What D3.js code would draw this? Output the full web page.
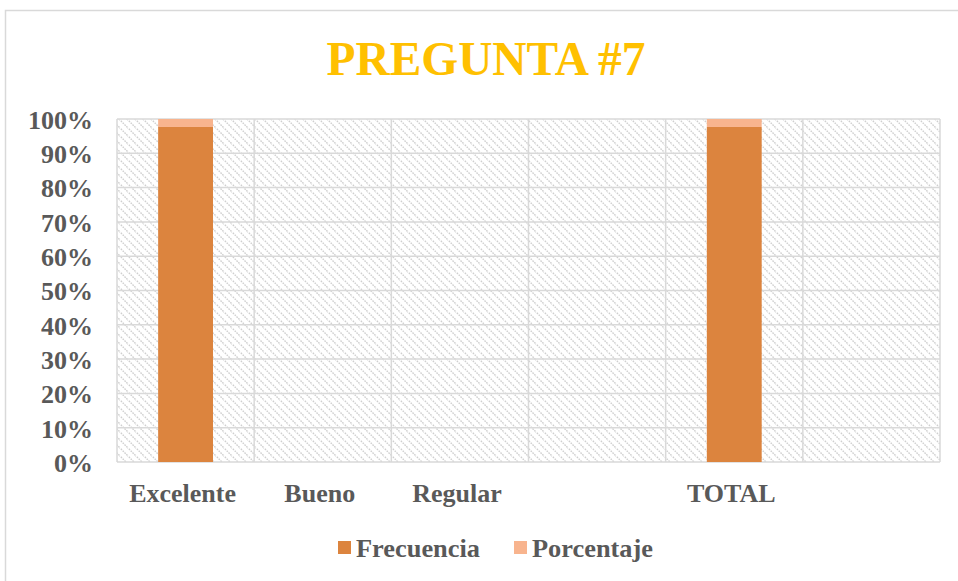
<!DOCTYPE html>
<html><head><meta charset="utf-8">
<script src="https://cdn.jsdelivr.net/npm/d3@7"></script>
<style>body{margin:0;background:#fff}svg{display:block}</style>
</head><body>
<svg id="chart" width="958" height="581"></svg>
<script>
const title = "PREGUNTA #7";
const categories = ["Excelente", "Bueno", "Regular", " ", "TOTAL", "  "];
const frecuencia = [42, 0, 0, 0, 42, 0];
const porcentaje = [1, 0, 0, 0, 1, 0];
const seriesNames = ["Frecuencia", "Porcentaje"];
const seriesColors = ["#DC843E", "#F8B48E"];
const yTicks = [0, 0.1, 0.2, 0.3, 0.4, 0.5, 0.6, 0.7, 0.8, 0.9, 1];

const svg = d3.select("#chart");
const font = "'Liberation Serif','Times New Roman',serif";
const m = {left: 117, right: 940, top: 119, bottom: 462};

// outer border
svg.append("rect").attr("x", 5.5).attr("y", 10.5).attr("width", 960).attr("height", 580)
  .attr("fill", "#fff").attr("stroke", "#d9d9d9").attr("stroke-width", 1.5);

// hatch pattern
const defs = svg.append("defs");
const pat = defs.append("pattern").attr("id", "hatch").attr("patternUnits", "userSpaceOnUse")
  .attr("width", 8).attr("height", 8);
pat.append("path").attr("d", "M-1,-1 L9,9 M-9,-1 L1,9 M7,-1 L17,9")
  .attr("stroke", "#cfcfcf").attr("stroke-width", 1.4).attr("stroke-dasharray", "1.6,1");

const x = d3.scaleBand().domain(categories).range([m.left, m.right]).paddingInner(0).paddingOuter(0);
const y = d3.scaleLinear().domain([0, 1]).range([m.bottom, m.top]);

svg.append("rect").attr("x", m.left).attr("y", m.top).attr("width", m.right - m.left)
  .attr("height", m.bottom - m.top).attr("fill", "url(#hatch)");

// gridlines
const g = svg.append("g").attr("stroke", "#d9d9d9").attr("stroke-width", 1.5);
yTicks.forEach(t => g.append("line").attr("x1", m.left).attr("x2", m.right).attr("y1", y(t)).attr("y2", y(t)));
categories.forEach(c => g.append("line").attr("x1", x(c)).attr("x2", x(c)).attr("y1", m.top).attr("y2", m.bottom));
g.append("line").attr("x1", m.right).attr("x2", m.right).attr("y1", m.top).attr("y2", m.bottom);

// stacked 100% bars
const rows = categories.map((c, i) => {
  const tot = frecuencia[i] + porcentaje[i];
  return {cat: c, Frecuencia: tot ? frecuencia[i] / tot : 0, Porcentaje: tot ? porcentaje[i] / tot : 0};
});
const stack = d3.stack().keys(seriesNames)(rows);
const bw = x.bandwidth() * 0.4;
stack.forEach((s, si) => {
  svg.append("g").selectAll("rect").data(s.filter(d => d[1] > d[0])).join("rect")
    .attr("x", d => x(d.data.cat) + (x.bandwidth() - bw) / 2)
    .attr("width", bw)
    .attr("y", d => y(d[1]))
    .attr("height", d => y(d[0]) - y(d[1]))
    .attr("fill", seriesColors[si]);
});

// y axis
const yAxis = d3.axisLeft(y).tickValues(yTicks).tickFormat(d3.format(".0%")).tickSize(0).tickPadding(24);
const ya = svg.append("g").attr("transform", `translate(${m.left},0)`).call(yAxis);
ya.select(".domain").remove();
ya.selectAll("text").attr("font-family", font).attr("font-weight", "bold").attr("font-size", 26)
  .attr("fill", "#595959").attr("dy", "0.36em");

// x axis
const xAxis = d3.axisBottom(x).tickSize(0).tickPadding(22);
const xa = svg.append("g").attr("transform", `translate(-3,${m.bottom})`).call(xAxis);
xa.select(".domain").remove();
xa.selectAll("text").attr("font-family", font).attr("font-weight", "bold").attr("font-size", 26)
  .attr("fill", "#595959");

// title
svg.append("text").attr("x", 486).attr("y", 75).attr("text-anchor", "middle")
  .attr("font-family", font).attr("font-weight", "bold").attr("font-size", 48)
  .attr("fill", "#FFC000").attr("textLength", 319).attr("lengthAdjust", "spacingAndGlyphs").text(title);

// legend
const legX = [338, 514];
const legW = [124, 121];
seriesNames.forEach((n, i) => {
  svg.append("rect").attr("x", legX[i]).attr("y", 541).attr("width", 13).attr("height", 13).attr("fill", seriesColors[i]);
  svg.append("text").attr("x", legX[i] + 18).attr("y", 557).attr("font-family", font).attr("font-weight", "bold")
    .attr("font-size", 26).attr("fill", "#595959").attr("textLength", legW[i])
    .attr("lengthAdjust", "spacingAndGlyphs").text(n);
});
</script>
</body></html>
